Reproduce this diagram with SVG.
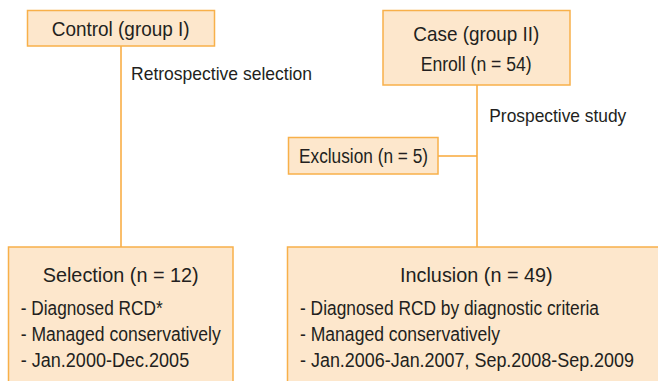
<svg xmlns="http://www.w3.org/2000/svg" width="658" height="381" viewBox="0 0 658 381">
<style>
.box{fill:#fde7cc;stroke:#f8b04a;stroke-width:1.5}
.ln{fill:none;stroke:#f8a93a;stroke-width:1.5}
text{font-family:"Liberation Sans",Arial,sans-serif;fill:#231f20;font-size:19.5px}
.t{font-size:21px}
.l{font-size:18.5px}
</style>
<rect width="658" height="381" fill="#ffffff"/>
<g id="connectors">
<path class="ln" d="M121,46V247"/>
<path class="ln" d="M477,85V247"/>
<path class="ln" d="M438,156H477"/>
</g>
<g id="control">
<rect class="box" x="27.5" y="10.5" width="187" height="35.5"/>
<text class="t" x="51.7" y="36" textLength="138" lengthAdjust="spacingAndGlyphs">Control (group I)</text>
</g>
<text class="l" x="131" y="80" textLength="181" lengthAdjust="spacingAndGlyphs">Retrospective selection</text>
<g id="case">
<rect class="box" x="383" y="10.5" width="187" height="74.5"/>
<text class="t" x="413.3" y="41" textLength="126" lengthAdjust="spacingAndGlyphs">Case (group II)</text>
<text x="420.7" y="71" textLength="111" lengthAdjust="spacingAndGlyphs">Enroll (n = 54)</text>
</g>
<text class="l" x="489.3" y="122" textLength="137" lengthAdjust="spacingAndGlyphs">Prospective study</text>
<g id="exclusion">
<rect class="box" x="288.5" y="137.5" width="149.5" height="36.5"/>
<text x="299" y="163" textLength="129" lengthAdjust="spacingAndGlyphs">Exclusion (n = 5)</text>
</g>
<g id="selection">
<rect class="box" x="8.5" y="247" width="224.5" height="140"/>
<text class="t" x="42.7" y="282" textLength="156" lengthAdjust="spacingAndGlyphs">Selection (n = 12)</text>
<text x="20.7" y="315" textLength="142" lengthAdjust="spacingAndGlyphs">- Diagnosed RCD*</text>
<text x="20.7" y="341" textLength="200" lengthAdjust="spacingAndGlyphs">- Managed conservatively</text>
<text x="20.7" y="367" textLength="168.5" lengthAdjust="spacingAndGlyphs">- Jan.2000-Dec.2005</text>
</g>
<g id="inclusion">
<rect class="box" x="287.5" y="247" width="375" height="140"/>
<text class="t" x="400" y="282" textLength="152.7" lengthAdjust="spacingAndGlyphs">Inclusion (n = 49)</text>
<text x="300" y="315" textLength="299" lengthAdjust="spacingAndGlyphs">- Diagnosed RCD by diagnostic criteria</text>
<text x="300" y="341" textLength="200" lengthAdjust="spacingAndGlyphs">- Managed conservatively</text>
<text x="300" y="367" textLength="334" lengthAdjust="spacingAndGlyphs">- Jan.2006-Jan.2007, Sep.2008-Sep.2009</text>
</g>
</svg>
